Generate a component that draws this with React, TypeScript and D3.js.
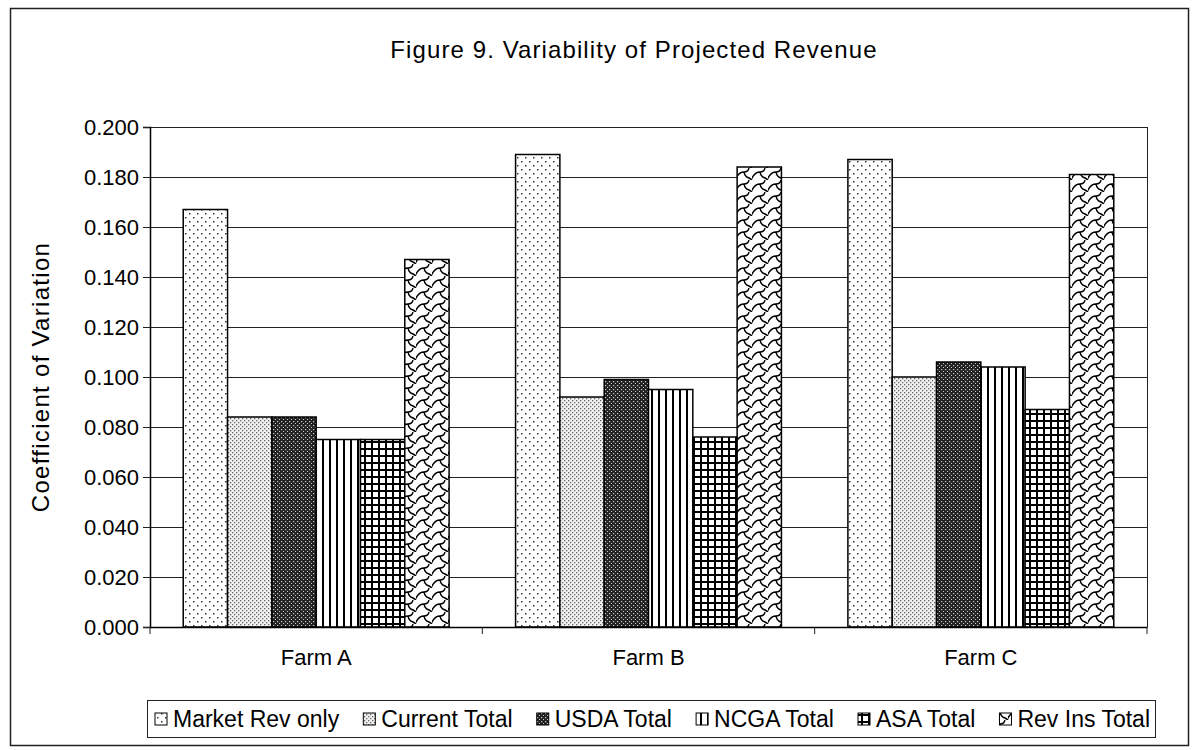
import { useEffect, useRef } from "react";
import * as d3 from "d3";

const FARMS = ["Farm A", "Farm B", "Farm C"];
const SERIES = ["Market Rev only", "Current Total", "USDA Total", "NCGA Total", "ASA Total", "Rev Ins Total"];
// values per series, in farm order
const MARKET_REV = [0.167, 0.189, 0.187];
const CURRENT_TOTAL = [0.084, 0.092, 0.1];
const USDA_TOTAL = [0.084, 0.099, 0.106];
const NCGA_TOTAL = [0.075, 0.095, 0.104];
const ASA_TOTAL = [0.075, 0.076, 0.087];
const REV_INS_TOTAL = [0.147, 0.184, 0.181];
const Y_TICKS = [0, 0.02, 0.04, 0.06, 0.08, 0.1, 0.12, 0.14, 0.16, 0.18, 0.2];

const VALUES = [MARKET_REV, CURRENT_TOTAL, USDA_TOTAL, NCGA_TOTAL, ASA_TOTAL, REV_INS_TOTAL];
const PAT_IDS = ["p-market", "p-current", "p-usda", "p-ncga", "p-asa", "p-revins"];

const FONT = "'Liberation Sans', Arial, sans-serif";

export default function App() {
  const svgRef = useRef<SVGSVGElement>(null);

  useEffect(() => {
    const svgEl = svgRef.current;
    if (!svgEl) return;
    const width = 1204;
    const height = 750;
    const plot = { left: 150, right: 1147, top: 127, bottom: 627 };

    const svg = d3.select(svgEl).attr("width", width).attr("height", height);
    svg.selectAll("*").remove();

    // ── patterns ─────────────────────────────────────────────
    const defs = svg.append("defs");
    const mk = (id: string, w: number, h: number, bg: string) => {
      const p = defs.append("pattern").attr("id", id).attr("patternUnits", "userSpaceOnUse")
        .attr("width", w).attr("height", h);
      p.append("rect").attr("width", w).attr("height", h).attr("fill", bg);
      return p;
    };
    // sparse dots
    const pm = mk("p-market", 8, 8, "#fff");
    [[1, 1], [5, 5]].forEach(([x, y]) =>
      pm.append("rect").attr("x", x).attr("y", y).attr("width", 1.5).attr("height", 1.5).attr("fill", "#333"));
    // dense dots
    const pc = mk("p-current", 4, 4, "#f2f2f2");
    [[0, 0], [2, 2]].forEach(([x, y]) =>
      pc.append("rect").attr("x", x).attr("y", y).attr("width", 1.3).attr("height", 1.3).attr("fill", "#666"));
    // dark with white dots
    const pu = mk("p-usda", 4, 4, "#222");
    [[1, 1], [3, 3]].forEach(([x, y]) =>
      pu.append("rect").attr("x", x).attr("y", y).attr("width", 1.2).attr("height", 1.2).attr("fill", "#ccc"));
    // vertical stripes
    const pn = mk("p-ncga", 7, 7, "#fff");
    pn.append("rect").attr("x", 0).attr("y", 0).attr("width", 2).attr("height", 7).attr("fill", "#000");
    // grid
    const pa = mk("p-asa", 7, 7, "#fff");
    pa.append("rect").attr("x", 0).attr("y", 0).attr("width", 2).attr("height", 7).attr("fill", "#000");
    pa.append("rect").attr("x", 0).attr("y", 0).attr("width", 7).attr("height", 2).attr("fill", "#000");
    // shingles
    const pr = mk("p-revins", 16, 12, "#fff");
    pr.append("path")
      .attr("d", "M0,10 Q3,4 8,4 Q12,4 13,0 M8,4 Q9,9 13,10 Q15,11 16,12 M13,12 Q14,16 16,16 M0,10 Q-1,12 0,13")
      .attr("fill", "none").attr("stroke", "#000").attr("stroke-width", 1.4);

    // ── outer frame ──────────────────────────────────────────
    svg.append("rect").attr("x", 10.5).attr("y", 8.5).attr("width", 1178).attr("height", 737)
      .attr("fill", "#fff").attr("stroke", "#222").attr("stroke-width", 1.5);

    svg.append("text").attr("x", 634).attr("y", 58)
      .attr("text-anchor", "middle").attr("font-family", FONT).attr("font-size", 24)
      .attr("letter-spacing", 1.1)
      .text("Figure 9. Variability of Projected Revenue");

    // ── scales ───────────────────────────────────────────────
    const x0 = d3.scaleBand().domain(FARMS).range([plot.left, plot.right]).padding(0);
    const W = x0.bandwidth();
    const x1 = d3.scaleBand().domain(SERIES).range([W * 0.1, W * 0.9]).padding(0);
    const y = d3.scaleLinear().domain([0, 0.2]).range([plot.bottom, plot.top]);

    // gridlines
    svg.append("g").selectAll("line").data(Y_TICKS.slice(1)).join("line")
      .attr("x1", plot.left).attr("x2", plot.right)
      .attr("y1", (d) => Math.round(y(d)) + 0.5).attr("y2", (d) => Math.round(y(d)) + 0.5)
      .attr("stroke", "#222").attr("stroke-width", 1);
    svg.append("line").attr("x1", plot.right + 0.5).attr("x2", plot.right + 0.5)
      .attr("y1", plot.top).attr("y2", plot.bottom).attr("stroke", "#222");

    // bars
    const g = svg.append("g");
    FARMS.forEach((farm, fi) => {
      SERIES.forEach((s, si) => {
        const v = VALUES[si][fi];
        const bx = (x0(farm) ?? 0) + (x1(s) ?? 0);
        g.append("rect")
          .attr("x", bx).attr("y", y(v))
          .attr("width", x1.bandwidth()).attr("height", y(0) - y(v))
          .attr("fill", `url(#${PAT_IDS[si]})`)
          .attr("stroke", "#000").attr("stroke-width", 1.5);
      });
    });

    // y axis
    const yAxis = svg.append("g").attr("transform", `translate(${plot.left},0)`)
      .call(d3.axisLeft(y).tickValues(Y_TICKS).tickFormat(d3.format(".3f")).tickSize(7).tickPadding(4));
    yAxis.select(".domain").attr("stroke", "#000").attr("stroke-width", 1.5);
    yAxis.selectAll("line").attr("stroke", "#222");
    yAxis.selectAll("text").attr("font-family", FONT).attr("font-size", 22).attr("fill", "#000");

    // x axis
    const xAxis = svg.append("g").attr("transform", `translate(0,${plot.bottom})`)
      .call(d3.axisBottom(x0).tickSize(0).tickPadding(22));
    xAxis.select(".domain").attr("stroke", "#000").attr("stroke-width", 1.5);
    xAxis.selectAll("text").attr("font-family", FONT).attr("font-size", 22).attr("fill", "#000");
    svg.append("g").selectAll("line").data([plot.left, ...FARMS.map((f) => (x0(f) ?? 0) + W)]).join("line")
      .attr("x1", (d) => d).attr("x2", (d) => d)
      .attr("y1", plot.bottom).attr("y2", plot.bottom + 7).attr("stroke", "#222");

    svg.append("text")
      .attr("transform", `translate(49,${(plot.top + plot.bottom) / 2}) rotate(-90)`)
      .attr("text-anchor", "middle").attr("font-family", FONT).attr("font-size", 24)
      .attr("letter-spacing", 1.3)
      .text("Coefficient of Variation");

    // ── legend ───────────────────────────────────────────────
    const leg = svg.append("g");
    leg.append("rect").attr("x", 147.5).attr("y", 700.5).attr("width", 1008).attr("height", 37)
      .attr("fill", "#fff").attr("stroke", "#222").attr("stroke-width", 1);
    const texts = SERIES.map((s) =>
      leg.append("text").attr("y", 727).attr("font-family", FONT).attr("font-size", 23).text(s));
    const widths = texts.map((t) => (t.node() as SVGTextElement).getComputedTextLength());
    const startX = 155;
    const endX = 1150;
    const icon = 12;
    const iconGap = 6;
    const free = endX - startX - d3.sum(widths) - SERIES.length * (icon + iconGap);
    const between = free / (SERIES.length - 1);
    let cx = startX;
    SERIES.forEach((s, i) => {
      leg.append("rect").attr("x", cx).attr("y", 713).attr("width", icon).attr("height", icon)
        .attr("fill", `url(#${PAT_IDS[i]})`).attr("stroke", "#000").attr("stroke-width", 1);
      texts[i].attr("x", cx + icon + iconGap);
      cx += icon + iconGap + widths[i] + between;
    });
  }, []);

  return (
    <div style={{ width: 1204, height: 750 }}>
      <svg ref={svgRef} style={{ position: "absolute", left: 0, top: 0 }} />
    </div>
  );
}
